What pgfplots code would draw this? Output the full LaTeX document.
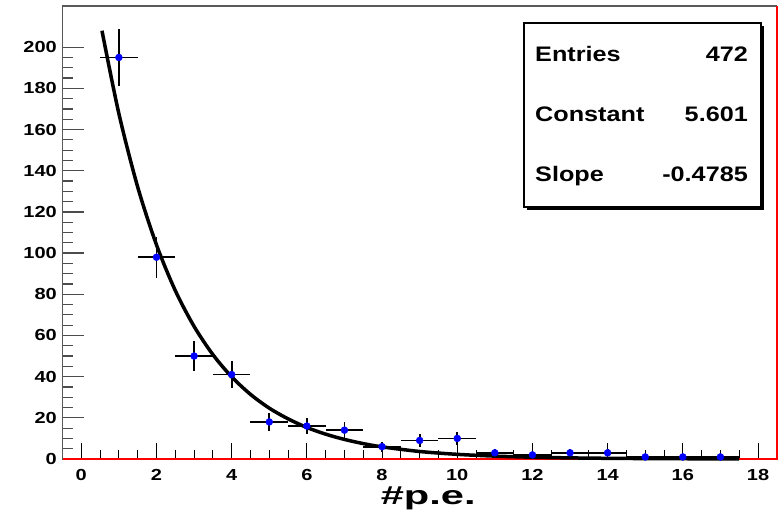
\documentclass[border=0pt]{standalone}
\usepackage{fontspec}
\setmainfont{Liberation Sans}
\newfontfamily\rootfont[FakeStretch=1.2]{Liberation Sans}
\newfontfamily\tickfont[FakeStretch=1.25]{Liberation Sans}
\newfontfamily\labelfont[FakeStretch=1.6]{Liberation Sans}
\usepackage{pgfplots}
\pgfplotsset{compat=1.18}
\usepackage{pgfplotstable}
\pgfplotstableread{
x y ex ey
1 195 0.5 13.96
2 98 0.5 9.90
3 50 0.5 7.07
4 41 0.5 6.40
5 18 0.5 4.24
6 16 0.5 4.00
7 14 0.5 3.74
8 6 0.5 2.45
9 9 0.5 3.00
10 10 0.5 3.16
11 3 0.5 1.73
12 2 0.5 1.41
13 3 0.5 1.73
14 3 0.5 1.73
15 1 0.5 1.00
16 1 0.5 1.00
17 1 0.5 1.00
}\hist
\pgfplotstableread{
x y
0.55 208.0
1 167.7
1.5 132.1
2 104.0
2.5 81.8
3 64.4
3.5 50.7
4 39.9
4.5 31.4
5 24.7
5.5 19.5
6 15.3
6.5 12.07
7 9.50
7.5 7.48
8 5.89
9 3.649
10 2.261
11 1.401
12 0.868
13 0.538
14 0.3335
15 0.2067
16 0.128
17 0.0794
17.5 0.0625
}\fit
\pgfplotsset{common/.style={
  at={(0pt,0pt)}, anchor=south west,
  scale only axis, width=714.3pt, height=453pt,
  xmin=-0.5, xmax=18.5, ymin=0, ymax=220,
  clip=false, tick align=inside,
}}
\begin{document}
\begin{tikzpicture}[x=1pt,y=1pt]
\path[use as bounding box] (-62.5pt,-60pt) rectangle (719.5pt,459pt);
% y axis
\begin{axis}[common,
  axis x line=none, axis y line*=left,
  axis line style={gray!70!black, line width=1.2pt},
  ytick={0,20,...,200}, minor y tick num=3,
  major tick length=22pt, minor tick length=11pt,
  y tick style={gray!60!black, line width=1.2pt},
  yticklabels={},
]
\addplot[draw=none] coordinates {(0,0)};
\pgfplotsinvokeforeach{0,20,40,60,80,100,120,140,160,180,200}{
  \node[anchor=east, inner sep=0pt, font=\tickfont\fontsize{16}{18}\selectfont\bfseries] at (axis cs:-0.5,#1) [xshift=-5.5pt] {#1};
}
\end{axis}
% x axis and data
\begin{axis}[common,
  axis x line*=bottom, axis y line=none,
  axis line style={gray!70!black, line width=1.2pt},
  xtick={0,2,...,18}, minor x tick num=3,
  major tick length=16pt, minor tick length=9pt,
  x tick style={black, line width=1pt},
  xticklabels={},
  xlabel={\labelfont\fontsize{26}{28}\selectfont\bfseries \#p.e.},
  xlabel style={at={(axis description cs:0.512,0)}, anchor=base, inner sep=0pt, yshift=-46pt},
]
\addplot[gray!70!black, line width=1.2pt, forget plot] coordinates {(-0.5,0) (-0.5,220) (18.5,220)};
\addplot[red, line width=2pt, forget plot] coordinates {(-0.5,0) (18.5,0) (18.5,220)};
\addplot[black, line width=3.5pt, smooth] table {\fit};
\addplot[only marks, mark=*, mark size=3.5pt, mark options={blue, fill=blue},
  error bars/.cd, x dir=both, x explicit, y dir=both, y explicit,
  error mark=none, error bar style={black, line width=1.8pt}]
  table[x=x, y=y, x error=ex, y error=ey] {\hist};
\pgfplotsinvokeforeach{0,2,4,6,8,10,12,14,16,18}{
  \node[anchor=north, inner sep=0pt, font=\tickfont\fontsize{16}{18}\selectfont\bfseries] at (axis cs:#1,0) [yshift=-10pt] {#1};
}
\end{axis}
\fill[black] (464.5,249) rectangle (701.5,433);
\draw[black, line width=1.2pt, fill=white] (461.5,252) rectangle (698.5,436);
\begin{scope}[font=\rootfont\fontsize{21}{23}\selectfont\bfseries, inner sep=0pt]
\node[anchor=base west] at (472.5,397) {Entries};
\node[anchor=base east] at (685.5,397) {472};
\node[anchor=base west] at (472.5,337) {Constant};
\node[anchor=base east] at (685.5,337) {5.601};
\node[anchor=base west] at (472.5,277) {Slope};
\node[anchor=base east] at (685.5,277) {-0.4785};
\end{scope}
\end{tikzpicture}
\end{document}
